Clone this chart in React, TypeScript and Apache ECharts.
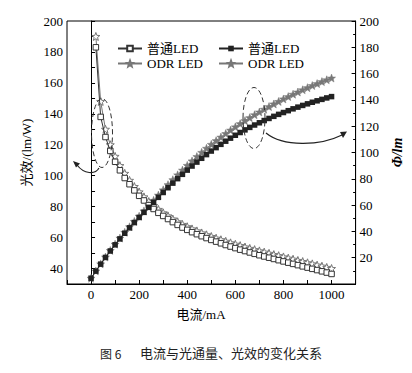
import React, { useEffect, useRef } from "react";
import * as echarts from "echarts";

// Current (mA)
const current = [
  0, 20, 40, 60, 80, 100, 120, 140, 160, 180, 200, 220, 240, 260, 280, 300, 320, 340, 360, 380,
  400, 420, 440, 460, 480, 500, 520, 540, 560, 580, 600, 620, 640, 660, 680, 700, 720, 740, 760,
  780, 800, 820, 840, 860, 880, 900, 920, 940, 960, 980, 1000,
];

// Luminous efficacy (lm/W), left axis
const effNormal = [
  null, 183, 138, 125, 116, 109, 103.5, 98.5, 94.5, 90.5, 87, 84, 81, 78.5, 76, 74, 72, 70, 68.2,
  66.5, 65, 63.5, 62.2, 60.9, 59.7, 58.5, 57.4, 56.3, 55.2, 54.2, 53.2, 52.2, 51.3, 50.4, 49.5,
  48.6, 47.8, 47, 46.2, 45.4, 44.6, 43.8, 43, 42.2, 41.4, 40.6, 39.8, 39, 38.2, 37.4, 36.5,
];
const effODR = [
  null, 190, 148, 130, 120, 112.5, 106.5, 101.5, 97, 93, 89.5, 86.3, 83.3, 80.7, 78.2, 76, 74, 72,
  70.2, 68.5, 67, 65.6, 64.3, 63, 61.8, 60.7, 59.6, 58.6, 57.6, 56.6, 55.7, 54.8, 53.9, 53, 52.2,
  51.4, 50.6, 49.8, 49, 48.3, 47.5, 46.7, 46, 45.2, 44.5, 43.7, 43, 42.2, 41.5, 40.7, 40,
];

// Luminous flux (lm), right axis
const fluxNormal = [
  4.4, 9.8, 15.1, 20.2, 25.1, 29.8, 34.3, 38.6, 42.7, 46.7, 50.6, 54.5, 58.3, 62.1, 65.9, 69.6,
  73.2, 76.7, 80.1, 83.4, 86.6, 89.7, 92.7, 95.6, 98.4, 101.1, 103.7, 106.2, 108.6, 110.9, 113.1,
  115.2, 117.2, 119.1, 120.9, 122.6, 124.3, 125.9, 127.5, 129, 130.4, 131.8, 133.2, 134.5, 135.8,
  137, 138.2, 139.3, 140.4, 141.5, 142.5,
];
const fluxODR = [
  4.4, 9.9, 15.3, 20.5, 25.5, 30.3, 34.9, 39.3, 43.5, 47.6, 51.6, 55.6, 59.6, 63.6, 67.6, 71.6,
  75.5, 79.3, 83, 86.6, 90.2, 93.6, 96.9, 100.1, 103.2, 106.2, 109, 111.7, 114.4, 117, 119.5,
  121.9, 124.2, 126.5, 128.7, 130.8, 132.9, 134.9, 136.9, 138.8, 140.7, 142.5, 144.3, 146, 147.7,
  149.3, 150.9, 152.4, 153.9, 155.3, 156.6,
];

const seriesNames = ["普通LED 光效", "ODR LED 光效", "普通LED 光通量", "ODR LED 光通量"];
const xAxisTitle = "电流/mA";
const yLeftTitle = "光效/(lm/W)";
const yRightTitle = "Φ/lm";
const captionNum = "图 6";
const captionText = "电流与光通量、光效的变化关系";

const STAR =
  "path://M12,1 L14.9,8.6 L23,9 L16.7,14.1 L18.8,22 L12,17.5 L5.2,22 L7.3,14.1 L1,9 L9.1,8.6 Z";

const SERIF = "Liberation Serif, serif";
const CJK = "Liberation Serif, Noto Sans CJK SC";

function pairs(vals: (number | null)[]) {
  const out: number[][] = [];
  vals.forEach((v, i) => {
    if (v !== null) out.push([current[i], v]);
  });
  return out;
}

export default function App() {
  const ref = useRef<HTMLDivElement>(null);
  useEffect(() => {
    if (!ref.current) return;
    const chart = echarts.init(ref.current, null, { renderer: "svg" });
    const axisCommon = {
      axisLine: { show: true, lineStyle: { color: "#000", width: 1 } },
      axisTick: { show: true, inside: true, length: 4, lineStyle: { color: "#000" } },
      splitLine: { show: false },
      axisLabel: { color: "#000", fontSize: 13, fontFamily: SERIF, margin: 4 },
    };
    const legendText = { fontSize: 13, fontFamily: CJK, color: "#000", lineHeight: 13 };
    chart.setOption({
      animation: false,
      backgroundColor: "#fff",
      textStyle: { fontFamily: SERIF },
      grid: {
        left: 67,
        right: 56,
        top: 21,
        bottom: 89,
        show: true,
        borderColor: "#000",
        borderWidth: 1,
        containLabel: false,
      },
      legend: [
        {
          data: [seriesNames[0], seriesNames[1]],
          orient: "vertical",
          left: 112,
          top: 37,
          itemWidth: 24,
          itemHeight: 7,
          itemGap: 2,
          formatter: (n: string) => n.split(" 光")[0],
          textStyle: legendText,
        },
        {
          data: [seriesNames[2], seriesNames[3]],
          orient: "vertical",
          left: 213,
          top: 37,
          itemWidth: 24,
          itemHeight: 7,
          itemGap: 2,
          formatter: (n: string) => n.split(" 光")[0],
          textStyle: legendText,
        },
      ],
      xAxis: {
        type: "value",
        min: -100,
        max: 1100,
        interval: 100,
        ...axisCommon,
        axisLabel: {
          ...axisCommon.axisLabel,
          formatter: (v: number) => (v >= 0 && v <= 1000 && v % 200 === 0 ? String(v) : ""),
        },
      },
      yAxis: [
        {
          type: "value",
          position: "left",
          min: 30,
          max: 200,
          interval: 10,
          name: yLeftTitle,
          nameLocation: "middle",
          nameGap: 30,
          nameTextStyle: { fontSize: 13, fontFamily: CJK, color: "#000" },
          ...axisCommon,
          axisLabel: {
            ...axisCommon.axisLabel,
            formatter: (v: number) => (v >= 40 && v % 20 === 0 ? String(v) : ""),
          },
        },
        {
          type: "value",
          position: "right",
          min: 0,
          max: 200,
          interval: 20,
          name: yRightTitle,
          nameLocation: "middle",
          nameGap: 27,
          nameTextStyle: {
            fontSize: 14,
            fontFamily: SERIF,
            color: "#000",
            fontStyle: "italic",
            fontWeight: "bold",
          },
          ...axisCommon,
          minorTick: { show: true, splitNumber: 2, length: 2.5, lineStyle: { color: "#000" } },
          axisLabel: {
            ...axisCommon.axisLabel,
            formatter: (v: number) => (v > 0 ? String(v) : ""),
          },
        },
      ],
      series: [
        {
          name: seriesNames[1],
          type: "line",
          yAxisIndex: 0,
          data: pairs(effODR),
          symbol: STAR,
          symbolSize: 8,
          lineStyle: { color: "#777", width: 1 },
          itemStyle: { color: "#fff", borderColor: "#777", borderWidth: 1 },
          z: 2,
        },
        {
          name: seriesNames[0],
          type: "line",
          yAxisIndex: 0,
          data: pairs(effNormal),
          symbol: "rect",
          symbolSize: 5.5,
          lineStyle: { color: "#333", width: 1 },
          itemStyle: { color: "#fff", borderColor: "#333", borderWidth: 1 },
          z: 3,
        },
        {
          name: seriesNames[3],
          type: "line",
          yAxisIndex: 1,
          data: pairs(fluxODR),
          symbol: STAR,
          symbolSize: 8,
          lineStyle: { color: "#777", width: 1 },
          itemStyle: { color: "#777", borderColor: "#777", borderWidth: 0.5 },
          z: 2,
        },
        {
          name: seriesNames[2],
          type: "line",
          yAxisIndex: 1,
          data: pairs(fluxNormal),
          symbol: "rect",
          symbolSize: 5.5,
          lineStyle: { color: "#222", width: 1 },
          itemStyle: { color: "#222" },
          z: 3,
        },
      ],
      graphic: [
        {
          type: "ellipse",
          shape: { cx: 102, cy: 133, rx: 10.5, ry: 34.5 },
          style: { fill: "none", stroke: "#333", lineWidth: 1, lineDash: [5, 3] },
          z: 10,
        },
        {
          type: "bezierCurve",
          shape: { x1: 99, y1: 168, cpx1: 95, cpy1: 175, cpx2: 84, cpy2: 174, x2: 77, y2: 165 },
          style: { fill: "none", stroke: "#222", lineWidth: 1.2 },
          z: 10,
        },
        {
          type: "polygon",
          shape: { points: [[73, 161], [80, 163.5], [76, 167.5]] },
          style: { fill: "#222" },
          z: 10,
        },
        {
          type: "ellipse",
          shape: { cx: 254, cy: 118, rx: 11, ry: 30.5 },
          style: { fill: "none", stroke: "#333", lineWidth: 1, lineDash: [5, 3] },
          z: 10,
        },
        {
          type: "bezierCurve",
          shape: { x1: 266, y1: 133, cpx1: 283, cpy1: 147, cpx2: 320, cpy2: 146, x2: 342, y2: 135 },
          style: { fill: "none", stroke: "#222", lineWidth: 1.2 },
          z: 10,
        },
        {
          type: "polygon",
          shape: { points: [[347, 131.5], [340, 132], [343, 138]] },
          style: { fill: "#222" },
          z: 10,
        },
        {
          type: "text",
          x: 201,
          y: 314,
          style: {
            text: xAxisTitle,
            fontSize: 13,
            fontFamily: CJK,
            fill: "#000",
            align: "center",
            verticalAlign: "middle",
          },
        },
        {
          type: "text",
          x: 100,
          y: 353,
          style: {
            text: captionNum,
            fontSize: 12,
            fontFamily: "Noto Sans CJK SC",
            fill: "#222",
            align: "left",
            verticalAlign: "middle",
          },
        },
        {
          type: "text",
          x: 140,
          y: 352,
          style: {
            text: captionText,
            fontSize: 13,
            fontFamily: "Noto Sans CJK SC",
            fill: "#222",
            align: "left",
            verticalAlign: "middle",
          },
        },
      ],
    });
    return () => chart.dispose();
  }, []);
  return (
    <div
      ref={ref}
      style={{ position: "fixed", left: 0, top: 0, width: 412, height: 373, background: "#fff" }}
    />
  );
}
